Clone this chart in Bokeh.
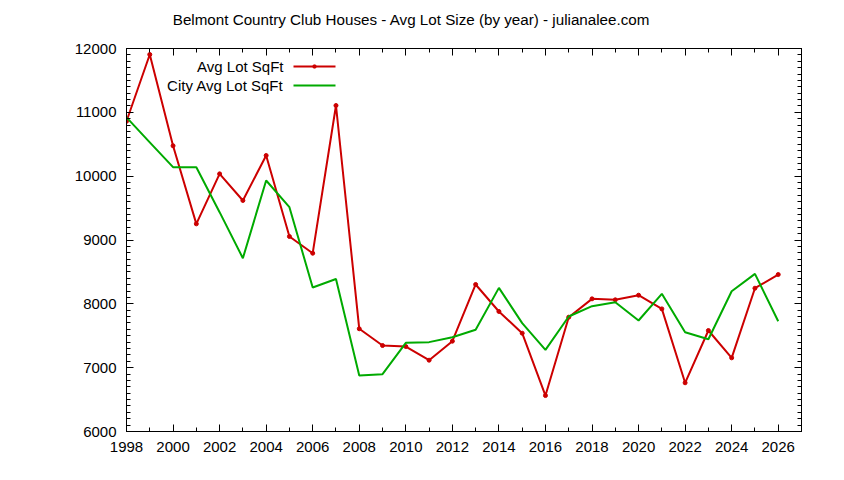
from bokeh.plotting import figure
from bokeh.layouts import column
from bokeh.models import (LinearAxis, SingleIntervalTicker, Range1d, Arrow,
                          BoxAnnotation, Label)
from bokeh.embed import file_html
from bokeh.resources import INLINE

years = list(range(1998, 2027))
avg_lot = [10860, 11906, 10476, 9253, 10036, 9619, 10324, 9055, 8793, 11107,
           7609, 7347, 7331, 7117, 7415, 8303, 7880, 7540, 6563, 7791,
           8078, 8063, 8135, 7921, 6763, 7582, 7154, 8245, 8459]
city_avg = [10920, 10530, 10141, 10141, 9436, 8715, 9932, 9514, 8256, 8390,
            6877, 6898, 7389, 7400, 7477, 7593, 8250, 7697, 7279, 7801,
            7963, 8025, 7739, 8157, 7555, 7446, 8197, 8470, 7728]
title_text = "Belmont Country Club Houses - Avg Lot Size (by year) - julianalee.com"
series_names = ["Avg Lot SqFt", "City Avg Lot SqFt"]

FONT = "Liberation Sans"
RED = "#cc0000"
GREEN = "#00aa00"
series_colors = [RED, GREEN]

# title strip
tfig = figure(width=828, height=40, output_backend="svg", toolbar_location=None,
              x_range=Range1d(0, 828), y_range=Range1d(0, 40),
              x_axis_type=None, y_axis_type=None, min_border=0)
tfig.outline_line_color = None
tfig.grid.visible = False
tfig.add_layout(Label(x=285, y=21, x_units="screen", y_units="screen",
                      text=title_text, text_align="center", text_baseline="middle",
                      text_font=FONT, text_font_size="15.2px", text_color="black"))

p = figure(width=828, height=424, output_backend="svg", toolbar_location=None,
           x_range=Range1d(1998, 2027), y_range=Range1d(6000, 12000),
           min_border_left=126, min_border_right=27, min_border_top=8,
           min_border_bottom=33, x_axis_type=None, y_axis_type=None)
p.outline_line_color = "black"
p.outline_line_width = 1
p.background_fill_color = "white"
p.border_fill_color = "white"


def style(ax, show_labels):
    ax.axis_line_color = "black"
    ax.major_tick_in = 7
    ax.major_tick_out = 0
    ax.minor_tick_in = 4
    ax.minor_tick_out = 0
    ax.major_tick_line_color = "black"
    ax.minor_tick_line_color = "black"
    ax.major_label_text_font = FONT
    ax.major_label_text_color = "black"
    if show_labels:
        ax.major_label_text_font_size = "15px"
        ax.major_label_standoff = 10
    else:
        ax.major_label_text_font_size = "1px"
        ax.major_label_text_color = None
        ax.major_label_standoff = 0


xb = LinearAxis(ticker=SingleIntervalTicker(interval=2, num_minor_ticks=2))
style(xb, True)
p.add_layout(xb, "below")
xa = LinearAxis(ticker=SingleIntervalTicker(interval=2, num_minor_ticks=2))
style(xa, False)
p.add_layout(xa, "above")
yl = LinearAxis(ticker=SingleIntervalTicker(interval=1000, num_minor_ticks=10))
style(yl, True)
p.add_layout(yl, "left")
yr = LinearAxis(ticker=SingleIntervalTicker(interval=1000, num_minor_ticks=10))
style(yr, False)
p.add_layout(yr, "right")

p.xgrid.ticker = SingleIntervalTicker(interval=1)
p.ygrid.ticker = SingleIntervalTicker(interval=1000)
for g in (p.xgrid, p.ygrid):
    g.grid_line_color = "#a0a0a0"
    g.grid_line_dash = "1 4"
    g.grid_line_width = 1

p.line(years, avg_lot, line_color=RED, line_width=2)
p.scatter(years, avg_lot, size=4, color=RED)
p.line(years, city_avg, line_color=GREEN, line_width=2)

# legend (text on the left, sample line on the right), in screen units
for i, (name, col) in enumerate(zip(series_names, series_colors)):
    yy = 365 - 19 * i
    p.add_layout(Label(x=157, y=yy, x_units="screen", y_units="screen",
                       text=name, text_align="right", text_baseline="middle",
                       text_font=FONT, text_font_size="15px", text_color="black"))
    p.add_layout(Arrow(x_start=167, y_start=yy, x_end=209, y_end=yy,
                       start_units="screen", end_units="screen", start=None, end=None,
                       line_color=col, line_width=2))
    if i == 0:
        p.add_layout(BoxAnnotation(left=186, right=190, bottom=yy - 2, top=yy + 2,
                                   left_units="screen", right_units="screen",
                                   bottom_units="screen", top_units="screen",
                                   fill_color=col, fill_alpha=1, line_color=col,
                                   border_radius=2))

open("out.html", "w").write(file_html(column(tfig, p, spacing=0), INLINE))
